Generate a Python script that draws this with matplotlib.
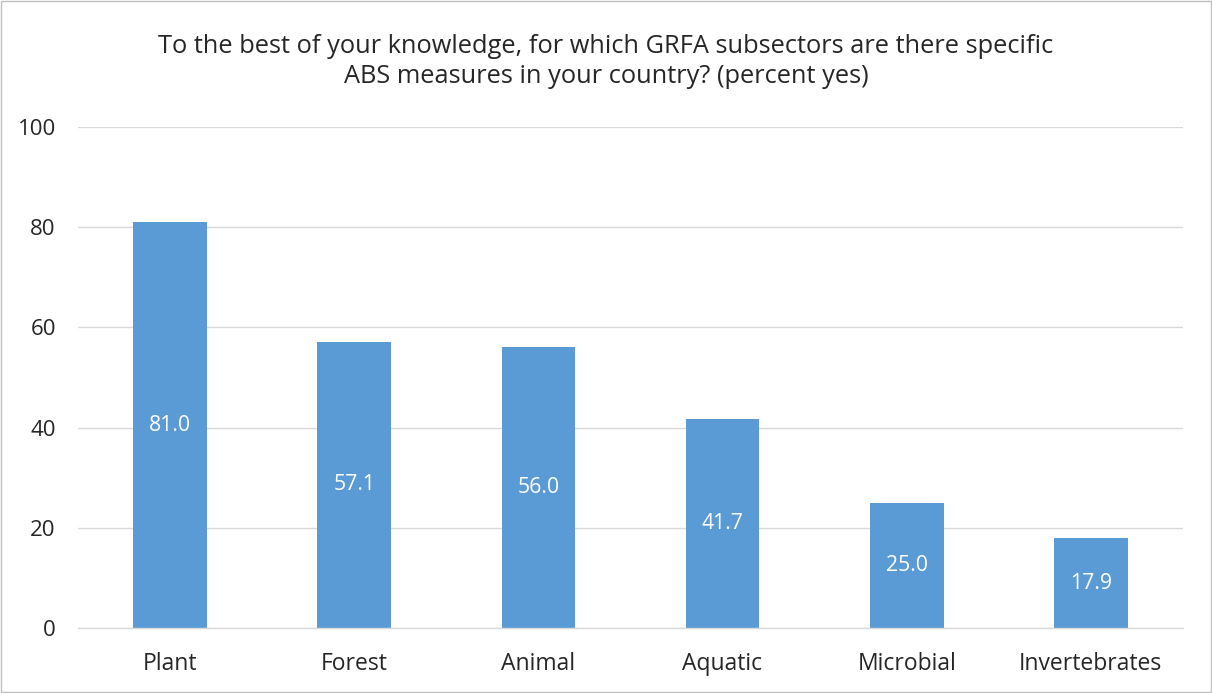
import matplotlib.pyplot as plt
from matplotlib.patches import Rectangle

categories = ["Plant", "Forest", "Animal", "Aquatic", "Microbial", "Invertebrates"]
values = [81.0, 57.1, 56.0, 41.7, 25.0, 17.9]
y_ticks = [0, 20, 40, 60, 80, 100]
title = ("To the best of your knowledge, for which GRFA subsectors are there specific\n"
         "ABS measures in your country? (percent yes)")

plt.rcParams['font.family'] = ['Open Sans', 'DejaVu Sans']

fig = plt.figure(figsize=(12.12, 6.93), dpi=100)
ax = fig.add_axes([0.0644, 0.0938, 0.9116, 0.7229])

bar_color = "#5B9BD5"
x = range(len(categories))
bars = ax.bar(x, values, width=0.4, color=bar_color, zorder=3)

for xi, v in zip(x, values):
    ax.text(xi, v / 2, f"{v:.1f}", ha="center", va="center",
            color="white", fontsize=15.3, zorder=4)

ax.set_xlim(-0.5, len(categories) - 0.5)
ax.set_ylim(0, 100)
ax.set_yticks(y_ticks)
ax.set_yticklabels([str(t) for t in y_ticks], fontsize=16, color="#262626")
ax.set_xticks(list(x))
ax.set_xticklabels(categories, fontsize=16.5, color="#262626")
ax.tick_params(axis="both", length=0)
ax.tick_params(axis="y", pad=16)
ax.tick_params(axis="x", pad=17)

ax.grid(axis="y", color="#D9D9D9", linewidth=1, zorder=0)
for side in ["top", "right", "left"]:
    ax.spines[side].set_visible(False)
ax.spines["bottom"].set_color("#D9D9D9")
ax.spines["bottom"].set_linewidth(1)
ax.spines["bottom"].set_zorder(3)

fig.text(0.5, 0.911, title, ha="center", va="center", fontsize=18.3,
         color="#262626", linespacing=1.25)

fig.patches.append(Rectangle((0.001, 0.001), 0.998, 0.998, transform=fig.transFigure,
                             fill=False, edgecolor="#BFBFBF", linewidth=1))

fig.savefig("out.png", dpi=100)
